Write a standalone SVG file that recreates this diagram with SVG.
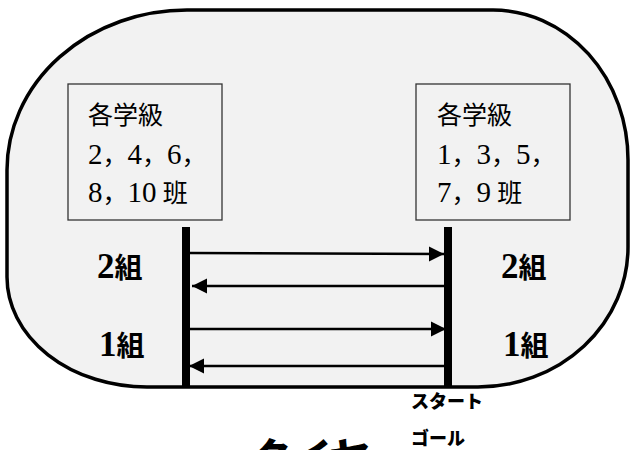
<svg xmlns="http://www.w3.org/2000/svg" width="630" height="450" viewBox="0 0 630 450">
<style>
.track{fill:#f2f2f2;stroke:#000;stroke-width:3.5}
.box{fill:#f2f2f2;stroke:#333;stroke-width:1.3}
.bar{fill:#000}
.boxtxt{font-family:"Liberation Serif","Noto Sans CJK JP",serif;font-size:25px;fill:#000}
.boxtxt .n{font-size:29px}
.team{font-family:"Liberation Serif","Noto Sans CJK JP",serif;font-size:28px;font-weight:bold;fill:#000}
.team .d{font-size:35px;font-family:"Liberation Serif",serif}
.sg{font-family:"Noto Sans CJK JP",sans-serif;font-size:18px;font-weight:900;fill:#000}
.big{font-family:"Noto Sans CJK JP",sans-serif;font-size:40px;font-weight:900;fill:#000}
.arrow{stroke:#000;stroke-width:2.5;fill:none;marker-end:url(#ah)}
</style>
<defs>
<marker id="ah" markerUnits="userSpaceOnUse" markerWidth="16" markerHeight="16" refX="15" refY="8" orient="auto">
<path d="M0,0.5 L15,8 L0,15.5 Z" fill="#000"/>
</marker>
</defs>
<rect width="630" height="450" fill="#fff"/>
<g id="track">
<path class="track" d="M187,10 L493,10 A135,150 0 0 1 628,160 L628,247 A150,140 0 0 1 478,387 L147,387 A140,110 0 0 1 7,277 L7,170 A180,160 0 0 1 187,10 Z"/>
</g>
<g id="box-left">
<rect class="box" x="68" y="84" width="154" height="136"/>
<text class="boxtxt" x="88" y="124">各学級</text>
<text class="boxtxt" x="88" y="164"><tspan class="n">2</tspan>，<tspan class="n">4</tspan>，<tspan class="n">6</tspan>，</text>
<text class="boxtxt" x="88" y="202"><tspan class="n">8</tspan>，<tspan class="n">10</tspan> 班</text>
</g>
<g id="box-right">
<rect class="box" x="416" y="84" width="154" height="136"/>
<text class="boxtxt" x="437" y="124">各学級</text>
<text class="boxtxt" x="437" y="164"><tspan class="n">1</tspan>，<tspan class="n">3</tspan>，<tspan class="n">5</tspan>，</text>
<text class="boxtxt" x="437" y="202"><tspan class="n">7</tspan>，<tspan class="n">9</tspan> 班</text>
</g>
<g id="bar-left"><rect class="bar" x="182" y="227" width="8" height="161"/></g>
<g id="bar-right"><rect class="bar" x="444" y="227" width="8" height="161"/></g>
<g id="labels-left">
<text class="team" x="97" y="278"><tspan class="d">2</tspan>組</text>
<text class="team" x="99" y="356"><tspan class="d">1</tspan>組</text>
</g>
<g id="labels-right">
<text class="team" x="501" y="278"><tspan class="d">2</tspan>組</text>
<text class="team" x="503" y="356"><tspan class="d">1</tspan>組</text>
</g>
<g id="start-goal">
<text class="sg" x="411" y="408">スタート</text>
<text class="sg" x="411" y="445">ゴール</text>
</g>
<g id="tire">
<text class="big" x="252" y="472" transform="skewX(-10) translate(78,0)">タイヤ</text>
</g>
<g id="connectors">
<path class="arrow" d="M190,253 L444,254"/>
<path class="arrow" d="M444,286 L192,286"/>
<path class="arrow" d="M190,329 L446,329"/>
<path class="arrow" d="M444,366 L189,366"/>
</g>
</svg>
